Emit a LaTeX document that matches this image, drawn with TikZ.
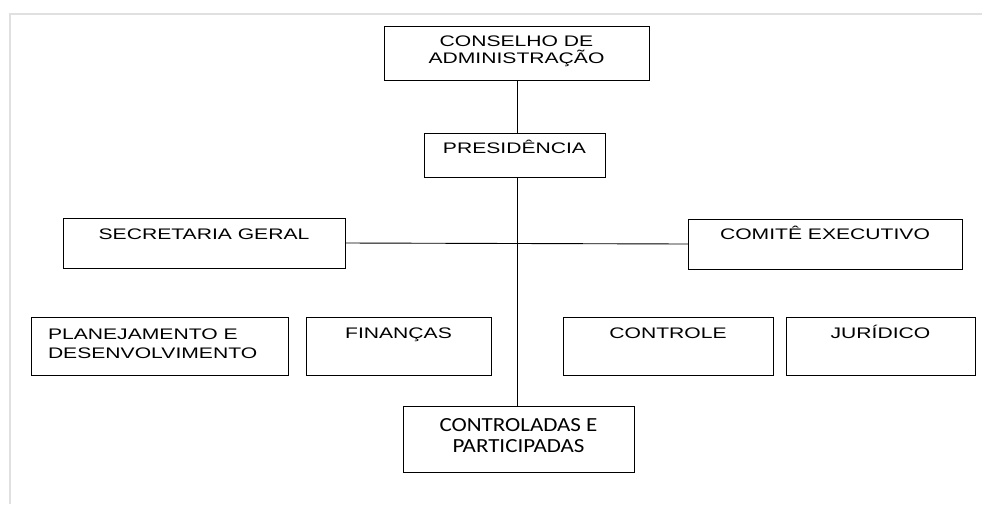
\documentclass[tikz,border=0pt]{standalone}
\usepackage{fontspec}
\newfontfamily\arfont[FakeStretch=1.38]{Liberation Sans}
\newfontfamily\cbfont[FakeStretch=1.15]{Carlito}
% #1 width, #2 height, #3 first baseline offset, #4 baselineskip, #5 alignment, #6 text
\newcommand\boxtxt[6]{\parbox[c][#2][t]{#1}{\fontsize{15.3pt}{#4}\arfont #5\vspace*{\dimexpr #3-15pt\relax}\rule{0pt}{15pt}#6\par}}
\newcommand\boxtxtcb[6]{\parbox[c][#2][t]{#1}{\fontsize{20pt}{#4}\cbfont #5\vspace*{\dimexpr #3-15pt\relax}\rule{0pt}{15pt}#6\par}}
\begin{document}
\begin{tikzpicture}[x=1pt,y=-1pt,
  orgbox/.style={draw=black,line width=0.9pt,inner sep=0pt,outer sep=0pt},
  conn/.style={draw=black,line width=0.9pt},
  frameline/.style={draw=black!12,line width=2pt}]
\useasboundingbox (0,0) rectangle (982,504);
\fill[white] (0,0) rectangle (982,504);
\draw[frameline] (10,504) -- (10,14) -- (982,14);

\node[orgbox] (cons) at (516.5,53) {\boxtxt{265pt}{54pt}{20.7pt}{16.7pt}{\centering}{CONSELHO DE\\ADMINISTRAÇÃO}};
\node[orgbox] (pres) at (514.5,155) {\boxtxt{181pt}{44pt}{20.7pt}{17pt}{\centering}{PRESIDÊNCIA}};
\node[orgbox] (sec) at (204,243) {\boxtxt{282pt}{50pt}{21.3pt}{17pt}{\centering}{SECRETARIA GERAL}};
\node[orgbox] (com) at (825,244) {\boxtxt{274pt}{50pt}{20.3pt}{17pt}{\centering}{COMITÊ EXECUTIVO}};
\node[orgbox] (plan) at (159.5,346) {\boxtxt{257pt}{58pt}{22pt}{19.3pt}{\raggedright\leftskip=17pt}{PLANEJAMENTO E\\DESENVOLVIMENTO}};
\node[orgbox] (fin) at (398.5,346) {\boxtxt{185pt}{58pt}{21.3pt}{17pt}{\centering}{FINANÇAS}};
\node[orgbox] (ctl) at (668,346) {\boxtxt{210pt}{58pt}{21pt}{17pt}{\centering}{CONTROLE}};
\node[orgbox] (jur) at (880.5,346) {\boxtxt{189pt}{58pt}{21pt}{17pt}{\centering}{JURÍDICO}};
\node[orgbox] (cp) at (518.5,439) {\boxtxtcb{231pt}{66pt}{25pt}{21pt}{\centering}{CONTROLADAS E\\PARTICIPADAS}};

\coordinate (axis) at (517,244);
\draw[conn] (cons.south -| axis) -- (pres.north -| axis);
\draw[conn] (pres.south -| axis) -- (cp.north -| axis);
\draw[conn] (sec.east) -- (com.west);
\end{tikzpicture}
\end{document}
